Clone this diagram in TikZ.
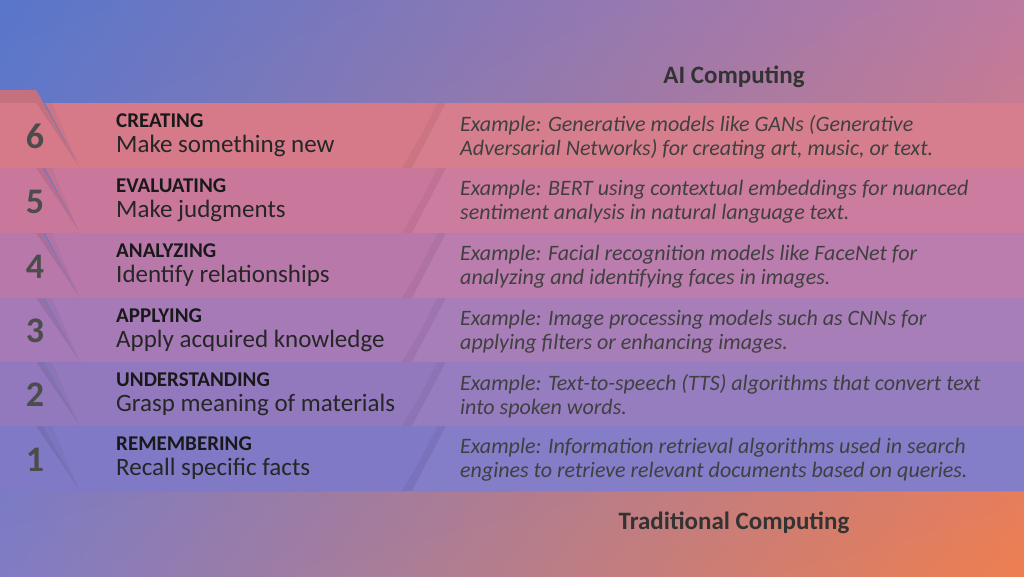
\documentclass[tikz,border=0pt]{standalone}
\usepackage{fontspec}
\setmainfont{Carlito}
\usetikzlibrary{shadings}
\definecolor{bgul}{RGB}{88,118,202}
\definecolor{bgur}{RGB}{190,122,160}
\definecolor{bgll}{RGB}{128,124,196}
\definecolor{bglr}{RGB}{238,126,80}
\definecolor{c6}{RGB}{214,122,138}
\definecolor{c5}{RGB}{201,120,156}
\definecolor{c4}{RGB}{184,121,170}
\definecolor{c3}{RGB}{165,122,182}
\definecolor{c2}{RGB}{146,121,190}
\definecolor{c1}{RGB}{128,121,198}
\begin{document}
\begin{tikzpicture}[x=1pt,y=-1pt,
  num/.style={font=\bfseries\fontsize{36}{36}\selectfont,text=black!70,anchor=center},
  ttl/.style={font=\bfseries\fontsize{21}{21}\selectfont,text=black!90,anchor=base west,inner sep=0},
  sub/.style={font=\fontsize{25}{25}\selectfont,text=black!85,anchor=base west,inner sep=0},
  ex/.style={font=\itshape\fontsize{22}{24}\selectfont,text=black!75,anchor=north west,inner sep=0,align=left},
  hd/.style={font=\bfseries\fontsize{25}{25}\selectfont,text=black!80,anchor=center}]
\useasboundingbox (0,0) rectangle (1024,576);
\shade[upper left=bgul,upper right=bgur,lower left=bgll,lower right=bglr] (0,0) rectangle (1024,576);
\def\rowA#1#2#3#4#5#6#7{%
 \fill[#3!92!black] (0,#1-13) -- (36,#1-13) -- (80,#2) -- (0,#2) -- cycle;
 \fill[#3] (0,#1) -- (36,#1) -- (80,#2) -- (0,#2) -- cycle;
 \fill[#3!96!black] (45,#1) -- (440,#1) -- (408,#2) -- (80,#2) -- cycle;
 \fill[#3] (52,#1) -- (437,#1) -- (405,#2) -- (80,#2) -- cycle;
 \fill[#3!95!black] (440,#1) -- (1024,#1) -- (1024,#2) -- (402,#2) -- cycle;
 \fill[#3!97!white] (446,#1) -- (1024,#1) -- (1024,#2) -- (412,#2) -- cycle;
 \node[num] (n#4) at (35,{(#1+#2)/2+1}) {#4};
 \node[ttl] (t#4) at (116,#1+24) {#5};
 \node[sub] (s#4) at (116,#1+49) {#6};
 \node[ex] (e#4) at (460,#1+12) {#7};
}
\rowA{426}{491}{c1}{1}{REMEMBERING}{Recall specific facts}{Example: Information retrieval algorithms used in search\\engines to retrieve relevant documents based on queries.}
\rowA{362}{426}{c2}{2}{UNDERSTANDING}{Grasp meaning of materials}{Example: Text-to-speech (TTS) algorithms that convert text\\into spoken words.}
\rowA{298}{362}{c3}{3}{APPLYING}{Apply acquired knowledge}{Example: Image processing models such as CNNs for\\applying filters or enhancing images.}
\rowA{233}{298}{c4}{4}{ANALYZING}{Identify relationships}{Example: Facial recognition models like FaceNet for\\analyzing and identifying faces in images.}
\rowA{168}{233}{c5}{5}{EVALUATING}{Make judgments}{Example: BERT using contextual embeddings for nuanced\\sentiment analysis in natural language text.}
\rowA{103}{168}{c6}{6}{CREATING}{Make something new}{Example: Generative models like GANs (Generative\\Adversarial Networks) for creating art, music, or text.}
\node[hd] (ai) at (734,77) {AI Computing};
\node[hd] (tc) at (734,523) {Traditional Computing};
\end{tikzpicture}
\end{document}
